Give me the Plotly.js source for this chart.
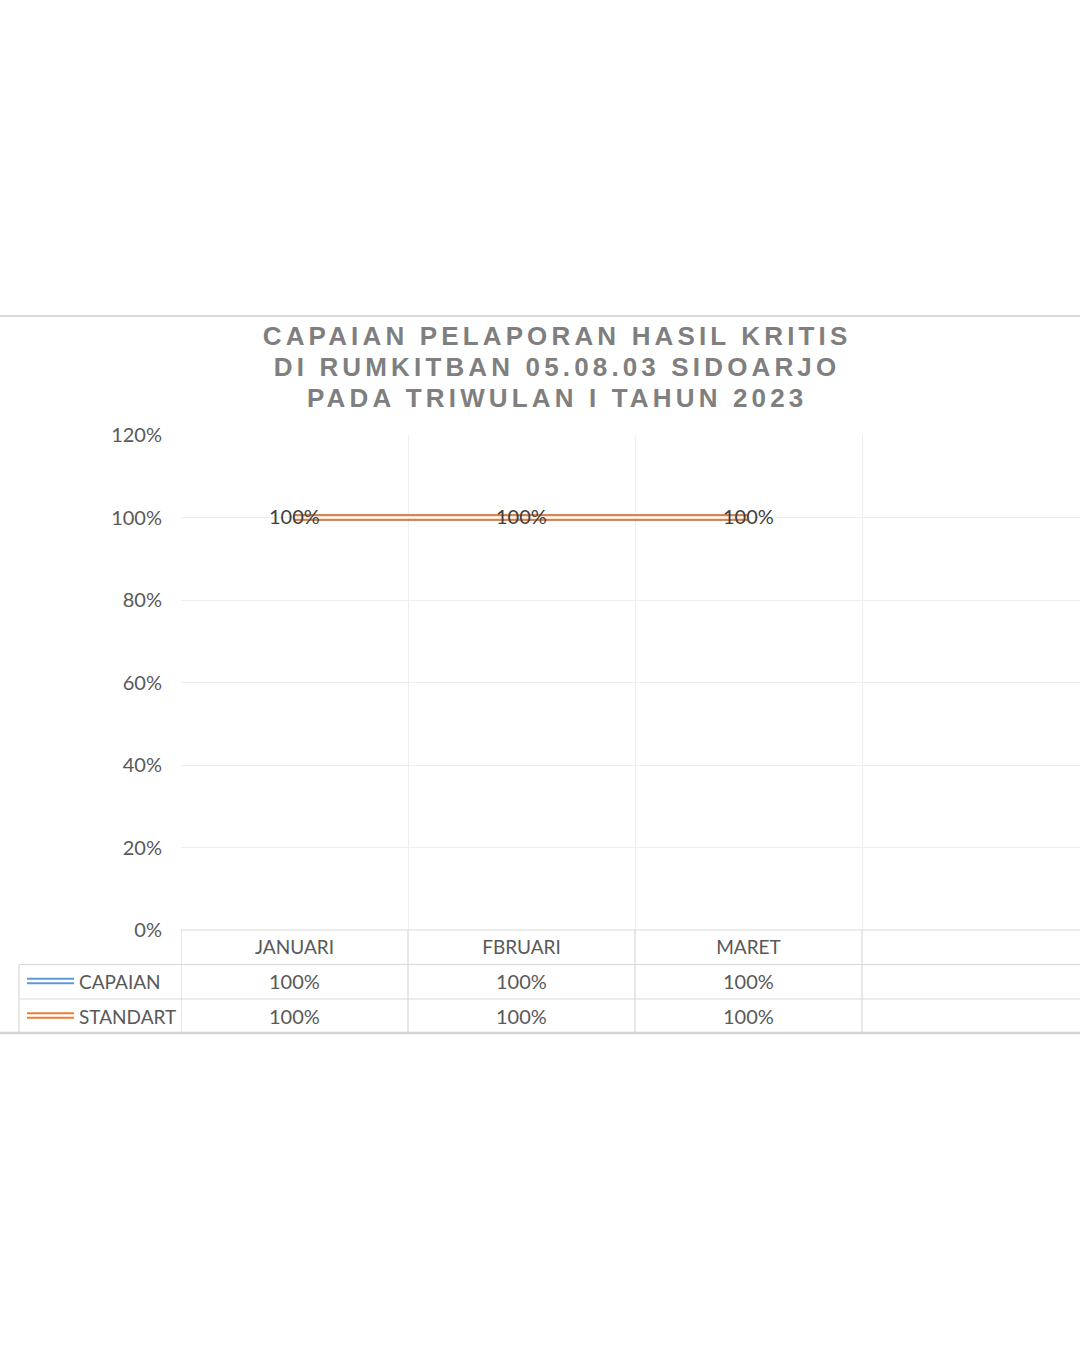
<!DOCTYPE html>
<html>
<head>
<meta charset="utf-8">
<script src="https://cdn.plot.ly/plotly-3.0.1.min.js"></script>
<style>
  html, body { margin: 0; padding: 0; background: #ffffff; }
  #chart { width: 1080px; height: 1350px; }
  .annotation[data-index="0"] .annotation-text,
  .annotation[data-index="1"] .annotation-text,
  .annotation[data-index="2"] .annotation-text { letter-spacing: 4.15px; }
</style>
</head>
<body>
<div id="chart"></div>
<script>
// ---- data ----
const categories = ["JANUARI", "FBRUARI", "MARET"];
const capaian = [1.0, 1.0, 1.0];
const standart = [1.0, 1.0, 1.0];
const seriesNames = ["CAPAIAN", "STANDART"];
const yTickVals = [0, 0.2, 0.4, 0.6, 0.8, 1.0, 1.2];
const titleLines = [
  "CAPAIAN PELAPORAN HASIL KRITIS",
  "DI RUMKITBAN 05.08.03 SIDOARJO",
  "PADA TRIWULAN I TAHUN 2023"
];

// ---- geometry helpers (pixel -> paper) ----
const W = 1080, H = 1350;
const px = x => x / W;
const py = y => 1 - y / H;

const BLUE = "#5B9BD5", ORANGE = "#ED7D31";
const TEXT = "#595959";
const GRID = "#efefef";
const TABLE = "#d9d9d9";
const FONT = "Lato, 'Open Sans', sans-serif";
const WORD_SIZE = 19, NUM_SIZE = 20;

const pct = v => Math.round(v * 100) + "%";

const traces = [
  {x: categories, y: capaian, type: "scatter", mode: "lines", name: seriesNames[0],
   line: {color: BLUE, width: 6.5}, hoverinfo: "skip", showlegend: false},
  {x: categories, y: capaian, type: "scatter", mode: "lines",
   line: {color: "#ffffff", width: 2.5}, hoverinfo: "skip", showlegend: false},
  {x: categories, y: standart, type: "scatter", mode: "lines", name: seriesNames[1],
   line: {color: ORANGE, width: 6.5}, hoverinfo: "skip", showlegend: false},
  {x: categories, y: standart, type: "scatter", mode: "lines",
   line: {color: "#ffffff", width: 2.5}, hoverinfo: "skip", showlegend: false}
];

// ---- shapes: borders, data table grid, legend keys ----
const shapes = [];
const line = (x0, y0, x1, y1, color, width, xref) => shapes.push({
  type: "line", xref: xref || "paper", yref: "paper",
  x0: x0, x1: x1, y0: py(y0), y1: py(y1),
  line: {color: color, width: width}
});
line(0, 316, 1, 316, TABLE, 2);
line(0, 1033, 1, 1033, "#d4d4d4", 2.5);
line(px(181), 930, 1, 930, TABLE, 1.2);
line(px(19), 964.5, 1, 964.5, TABLE, 1.2);
line(px(19), 999, 1, 999, TABLE, 1.2);
line(px(19), 964.5, px(19), 1033, TABLE, 1.2);
[-0.5, 0.5, 1.5, 2.5].forEach(b => line(b, 930, b, 1033, TABLE, 1.2, "x"));

const key = (yc, color) => {
  line(px(27), yc - 2.2, px(74), yc - 2.2, color, 2);
  line(px(27), yc + 2.2, px(74), yc + 2.2, color, 2);
};
key(981, BLUE);
key(1015.5, ORANGE);

// ---- annotations: title (first 3), data labels, table text ----
const annotations = [];
const titleY = [336, 367, 397.5];
titleLines.forEach((t, i) => annotations.push({
  xref: "paper", yref: "paper", x: px(557), y: py(titleY[i]),
  xanchor: "center", yanchor: "middle", showarrow: false,
  text: t,
  font: {family: "'Liberation Sans', Arial, sans-serif", size: 26, color: "#7f7f7f", weight: "bold"}
}));

// data labels on the points
capaian.forEach((v, i) => annotations.push({
  xref: "x", yref: "y", x: categories[i], y: v, yshift: 2,
  xanchor: "center", yanchor: "middle", showarrow: false,
  text: pct(v), font: {family: FONT, size: NUM_SIZE, color: "#404040"}
}));

const rowY = [981, 1016];
[capaian, standart].forEach((arr, r) => {
  annotations.push({
    xref: "paper", yref: "paper", x: px(77), y: py(rowY[r]),
    xanchor: "left", yanchor: "middle", showarrow: false,
    text: seriesNames[r], font: {family: FONT, size: WORD_SIZE, color: TEXT}
  });
  arr.forEach((v, i) => annotations.push({
    xref: "x", yref: "paper", x: categories[i], y: py(rowY[r]),
    xanchor: "center", yanchor: "middle", showarrow: false,
    text: pct(v), font: {family: FONT, size: NUM_SIZE, color: TEXT}
  }));
});

const layout = {
  width: W, height: H,
  margin: {l: 0, r: 0, t: 0, b: 0},
  paper_bgcolor: "#ffffff", plot_bgcolor: "#ffffff",
  showlegend: false,
  xaxis: {
    domain: [px(181), 1],
    type: "category",
    categoryarray: categories,
    range: [-0.5, -0.5 + (1080 - 181) / 227],
    showgrid: true, gridcolor: GRID, gridwidth: 1,
    tickson: "boundaries",
    ticks: "", showline: false, zeroline: false,
    tickfont: {family: FONT, size: WORD_SIZE, color: TEXT},
    ticklabelstandoff: 4,
    fixedrange: true
  },
  yaxis: {
    domain: [py(930), py(435)],
    range: [0, 1.2],
    tickvals: yTickVals,
    tickformat: ".0%",
    showgrid: true, gridcolor: GRID, gridwidth: 1,
    zeroline: false, showline: false, ticks: "",
    tickfont: {family: FONT, size: NUM_SIZE, color: TEXT},
    ticklabelstandoff: 18,
    fixedrange: true
  },
  shapes: shapes,
  annotations: annotations
};

Plotly.newPlot("chart", traces, layout, {displayModeBar: false, staticPlot: true});
</script>
</body>
</html>
